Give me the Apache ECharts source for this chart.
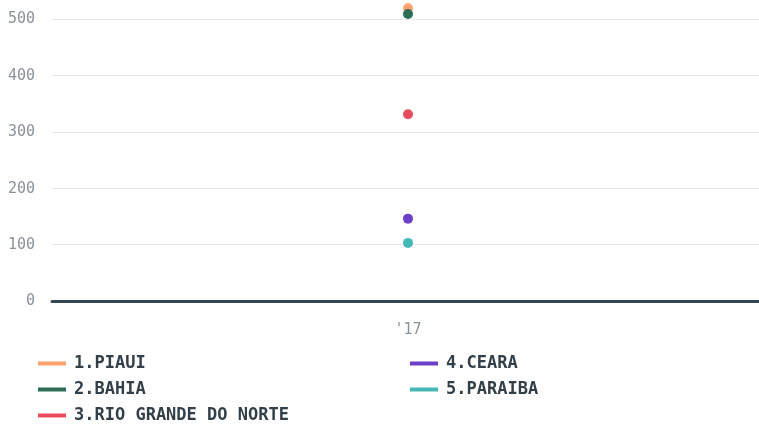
<!DOCTYPE html>
<html>
<head>
<meta charset="utf-8">
<script src="https://cdn.jsdelivr.net/npm/echarts@6/dist/echarts.min.js"></script>
<style>
html, body { margin: 0; padding: 0; background: #fff; }
#chart { width: 759px; height: 425px; }
</style>
</head>
<body>
<div id="chart"></div>
<script>
var years = ["'17"]
var names = ['1.PIAUI', '2.BAHIA', '3.RIO GRANDE DO NORTE', '4.CEARA', '5.PARAIBA']
var colors = ['#fda26e', '#2d6e55', '#ea4c5f', '#6c3fc9', '#45b8b8']
var piaui = [519]
var bahia = [509]
var rioGrandeDoNorte = [331]
var ceara = [146]
var paraiba = [103]
var seriesData = [piaui, bahia, rioGrandeDoNorte, ceara, paraiba]

var font = 'DejaVu Sans Mono'

var series = []
for (var i = 0; i < names.length; i++) {
    series.push({
        name: names[i],
        type: 'line',
        clip: false,
        symbol: 'circle',
        symbolSize: 10,
        itemStyle: { color: colors[i] },
        lineStyle: { color: colors[i], width: 4 },
        data: seriesData[i]
    })
}

var legendBase = {
    orient: 'vertical',
    top: 350,
    height: 100,
    itemWidth: 28,
    itemHeight: 4,
    itemGap: 9,
    icon: 'rect',
    textStyle: { fontFamily: font, fontSize: 17, fontWeight: 'bold', color: '#333f48', padding: [0, 0, 0, 3] }
}

var myChart = echarts.init(document.getElementById('chart'))
var option = {
    animation: false,
    color: colors,
    grid: { left: 52, width: 712, top: 19, height: 282, outerBoundsMode: 'none' },
    legend: [
        Object.assign({}, legendBase, { left: 33, data: names.slice(0, 3) }),
        Object.assign({}, legendBase, { left: 405, data: names.slice(3) })
    ],
    xAxis: {
        type: 'category',
        data: years,
        axisLine: { lineStyle: { color: '#37474f', width: 3 } },
        axisTick: { show: false },
        axisLabel: { fontFamily: font, fontSize: 15, color: '#8a9299', margin: 22 }
    },
    yAxis: {
        type: 'value',
        min: 0,
        max: 500,
        interval: 100,
        axisLine: { show: false },
        axisTick: { show: false },
        splitLine: { lineStyle: { color: '#e8e8e8' } },
        axisLabel: { fontFamily: font, fontSize: 15, color: '#8a9299', margin: 17, verticalAlign: 'top', padding: [-7, 0, 0, 0] }
    },
    series: series
}
myChart.setOption(option)
</script>
</body>
</html>
